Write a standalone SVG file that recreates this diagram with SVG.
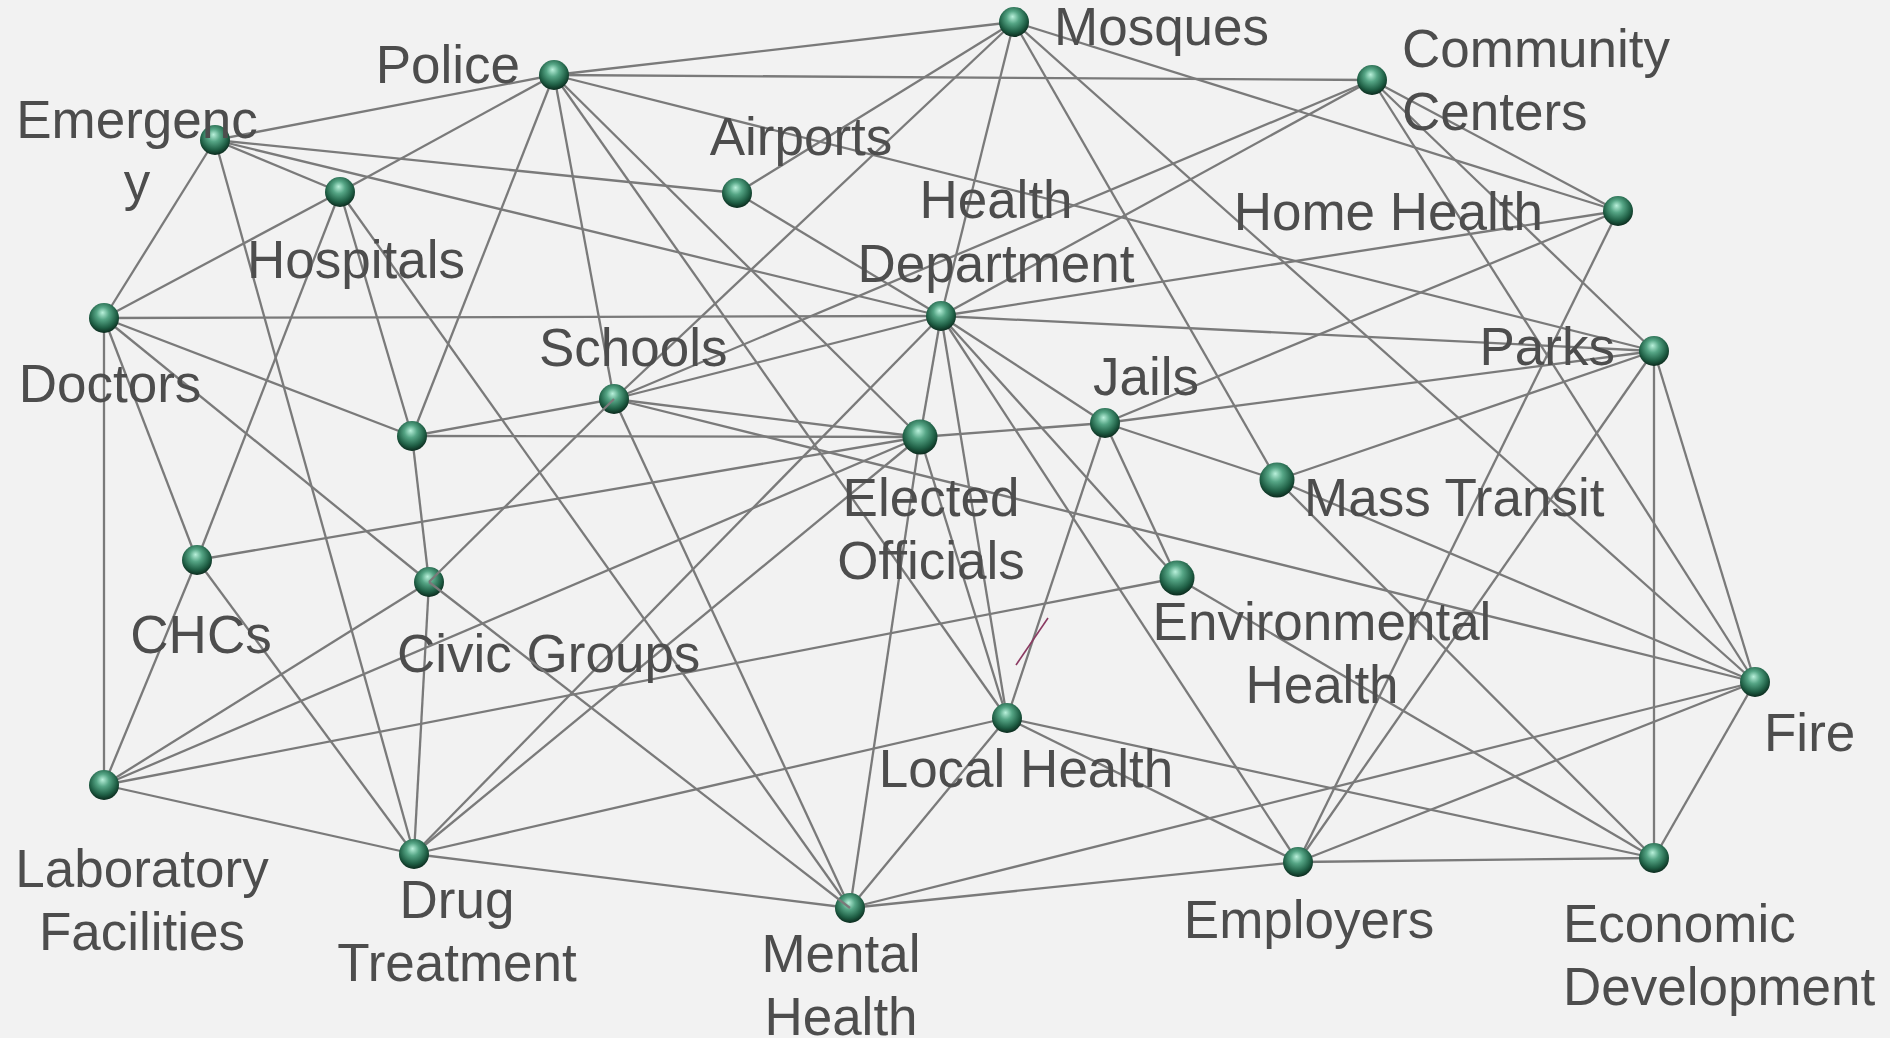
<svg xmlns="http://www.w3.org/2000/svg" width="1890" height="1038" viewBox="0 0 1890 1038">
<style>
.bg{fill:#f2f2f2}
.e line{stroke:#7a7a7a;stroke-width:2.3}
.n{fill:url(#ball)}
.t{font-family:"Liberation Sans",Arial,sans-serif;font-size:53px;fill:#4d4d4d}
.m{text-anchor:middle}
.r{text-anchor:end}
</style>
<defs>
<radialGradient id="ball" cx="48%" cy="40%" r="60%" fx="45%" fy="32%">
<stop offset="0" stop-color="#b8f0da"/>
<stop offset="0.35" stop-color="#55a585"/>
<stop offset="0.75" stop-color="#1f5f45"/>
<stop offset="1" stop-color="#0b2a1d"/>
</radialGradient>
</defs>
<rect class="bg" x="0" y="0" width="1890" height="1038"/>
<g id="connectors" class="e">
<line x1="554" y1="75" x2="215" y2="140"/>
<line x1="554" y1="75" x2="340" y2="192"/>
<line x1="554" y1="75" x2="412" y2="436"/>
<line x1="554" y1="75" x2="614" y2="399"/>
<line x1="554" y1="75" x2="1014" y2="22"/>
<line x1="554" y1="75" x2="1372" y2="80"/>
<line x1="554" y1="75" x2="1654" y2="351"/>
<line x1="554" y1="75" x2="920" y2="437"/>
<line x1="554" y1="75" x2="1007" y2="718"/>
<line x1="215" y1="140" x2="340" y2="192"/>
<line x1="215" y1="140" x2="104" y2="318"/>
<line x1="215" y1="140" x2="414" y2="854"/>
<line x1="215" y1="140" x2="737" y2="193"/>
<line x1="215" y1="140" x2="941" y2="316"/>
<line x1="340" y1="192" x2="104" y2="318"/>
<line x1="340" y1="192" x2="197" y2="560"/>
<line x1="340" y1="192" x2="412" y2="436"/>
<line x1="340" y1="192" x2="850" y2="908"/>
<line x1="104" y1="318" x2="941" y2="316"/>
<line x1="104" y1="318" x2="104" y2="785"/>
<line x1="104" y1="318" x2="197" y2="560"/>
<line x1="104" y1="318" x2="429" y2="582"/>
<line x1="104" y1="318" x2="412" y2="436"/>
<line x1="1014" y1="22" x2="614" y2="399"/>
<line x1="1014" y1="22" x2="737" y2="193"/>
<line x1="1014" y1="22" x2="941" y2="316"/>
<line x1="1014" y1="22" x2="1277" y2="480"/>
<line x1="1014" y1="22" x2="1755" y2="682"/>
<line x1="1014" y1="22" x2="1618" y2="211"/>
<line x1="1372" y1="80" x2="941" y2="316"/>
<line x1="1372" y1="80" x2="614" y2="399"/>
<line x1="1372" y1="80" x2="1618" y2="211"/>
<line x1="1372" y1="80" x2="1755" y2="682"/>
<line x1="1372" y1="80" x2="1654" y2="351"/>
<line x1="737" y1="193" x2="941" y2="316"/>
<line x1="941" y1="316" x2="1618" y2="211"/>
<line x1="941" y1="316" x2="1654" y2="351"/>
<line x1="941" y1="316" x2="614" y2="399"/>
<line x1="941" y1="316" x2="414" y2="854"/>
<line x1="941" y1="316" x2="920" y2="437"/>
<line x1="941" y1="316" x2="1007" y2="718"/>
<line x1="941" y1="316" x2="1298" y2="862"/>
<line x1="941" y1="316" x2="1177" y2="578"/>
<line x1="941" y1="316" x2="1105" y2="423"/>
<line x1="1618" y1="211" x2="1105" y2="423"/>
<line x1="1618" y1="211" x2="1298" y2="862"/>
<line x1="412" y1="436" x2="614" y2="399"/>
<line x1="412" y1="436" x2="920" y2="437"/>
<line x1="412" y1="436" x2="429" y2="582"/>
<line x1="614" y1="399" x2="920" y2="437"/>
<line x1="614" y1="399" x2="1755" y2="682"/>
<line x1="614" y1="399" x2="850" y2="908"/>
<line x1="197" y1="560" x2="920" y2="437"/>
<line x1="197" y1="560" x2="104" y2="785"/>
<line x1="197" y1="560" x2="414" y2="854"/>
<line x1="429" y1="582" x2="414" y2="854"/>
<line x1="429" y1="582" x2="104" y2="785"/>
<line x1="104" y1="785" x2="920" y2="437"/>
<line x1="104" y1="785" x2="1177" y2="578"/>
<line x1="104" y1="785" x2="414" y2="854"/>
<line x1="414" y1="854" x2="920" y2="437"/>
<line x1="414" y1="854" x2="1007" y2="718"/>
<line x1="414" y1="854" x2="850" y2="908"/>
<line x1="850" y1="908" x2="920" y2="437"/>
<line x1="850" y1="908" x2="1007" y2="718"/>
<line x1="850" y1="908" x2="1755" y2="682"/>
<line x1="850" y1="908" x2="1298" y2="862"/>
<line x1="1007" y1="718" x2="920" y2="437"/>
<line x1="1007" y1="718" x2="1105" y2="423"/>
<line x1="1007" y1="718" x2="1654" y2="858"/>
<line x1="1007" y1="718" x2="1298" y2="862"/>
<line x1="920" y1="437" x2="1105" y2="423"/>
<line x1="1105" y1="423" x2="1654" y2="351"/>
<line x1="1105" y1="423" x2="1277" y2="480"/>
<line x1="1105" y1="423" x2="1177" y2="578"/>
<line x1="1177" y1="578" x2="1654" y2="858"/>
<line x1="1277" y1="480" x2="1654" y2="351"/>
<line x1="1277" y1="480" x2="1755" y2="682"/>
<line x1="1277" y1="480" x2="1654" y2="858"/>
<line x1="1755" y1="682" x2="1654" y2="351"/>
<line x1="1755" y1="682" x2="1654" y2="858"/>
<line x1="1755" y1="682" x2="1298" y2="862"/>
<line x1="1298" y1="862" x2="1654" y2="858"/>
<line x1="1298" y1="862" x2="1654" y2="351"/>
<line x1="1654" y1="351" x2="1654" y2="858"/>
</g>
<line x1="1048" y1="618" x2="1016" y2="665" stroke="#8b3a62" stroke-width="1.6"/>
<g id="police"><circle class="n" cx="554" cy="75" r="15"/><text class="t r" x="520" y="83">Police</text></g>
<g id="mosques"><circle class="n" cx="1014" cy="22" r="15"/><text class="t" x="1054" y="45">Mosques</text></g>
<g id="community-centers"><circle class="n" cx="1372" cy="80" r="15"/><text class="t" x="1402" y="67">Community<tspan x="1402" y="130">Centers</tspan></text></g>
<g id="emergency"><circle class="n" cx="215" cy="140" r="15"/><text class="t m" x="137" y="138">Emergenc<tspan x="137" y="200">y</tspan></text></g>
<g id="airports"><circle class="n" cx="737" cy="193" r="15"/><text class="t m" x="801" y="155">Airports</text></g>
<g id="hospitals"><circle class="n" cx="340" cy="192" r="15"/><text class="t m" x="356" y="278">Hospitals</text></g>
<g id="health-department"><circle class="n" cx="941" cy="316" r="15"/><text class="t m" x="996" y="218">Health<tspan x="996" y="282">Department</tspan></text></g>
<g id="home-health"><circle class="n" cx="1618" cy="211" r="15"/><text class="t r" x="1543" y="230">Home Health</text></g>
<g id="doctors"><circle class="n" cx="104" cy="318" r="15"/><text class="t m" x="110" y="402">Doctors</text></g>
<g id="node-unlabeled"><circle class="n" cx="412" cy="436" r="15"/></g>
<g id="schools"><circle class="n" cx="614" cy="399" r="15"/><text class="t" x="539" y="366">Schools</text></g>
<g id="parks"><circle class="n" cx="1654" cy="351" r="15"/><text class="t r" x="1615" y="365">Parks</text></g>
<g id="jails"><circle class="n" cx="1105" cy="423" r="15"/><text class="t m" x="1146" y="395">Jails</text></g>
<g id="elected-officials"><circle class="n" cx="920" cy="437" r="17.5"/><text class="t m" x="931" y="516">Elected<tspan x="931" y="579">Officials</tspan></text></g>
<g id="mass-transit"><circle class="n" cx="1277" cy="480" r="17.5"/><text class="t" x="1304" y="516">Mass Transit</text></g>
<g id="chcs"><circle class="n" cx="197" cy="560" r="15"/><text class="t m" x="201" y="653">CHCs</text></g>
<g id="civic-groups"><circle class="n" cx="429" cy="582" r="15"/><text class="t" x="397" y="672">Civic Groups</text></g>
<g id="environmental-health"><circle class="n" cx="1177" cy="578" r="17.5"/><text class="t m" x="1322" y="640">Environmental<tspan x="1322" y="703">Health</tspan></text></g>
<g id="fire"><circle class="n" cx="1755" cy="682" r="15"/><text class="t" x="1764" y="751">Fire</text></g>
<g id="local-health"><circle class="n" cx="1007" cy="718" r="15"/><text class="t m" x="1026" y="787">Local Health</text></g>
<g id="laboratory-facilities"><circle class="n" cx="104" cy="785" r="15"/><text class="t m" x="142" y="887">Laboratory<tspan x="142" y="950">Facilities</tspan></text></g>
<g id="drug-treatment"><circle class="n" cx="414" cy="854" r="15"/><text class="t m" x="457" y="918">Drug<tspan x="457" y="981">Treatment</tspan></text></g>
<g id="mental-health"><circle class="n" cx="850" cy="908" r="15"/><text class="t m" x="841" y="972">Mental<tspan x="841" y="1035">Health</tspan></text></g>
<g id="employers"><circle class="n" cx="1298" cy="862" r="15"/><text class="t m" x="1309" y="938">Employers</text></g>
<g id="economic-development"><circle class="n" cx="1654" cy="858" r="15"/><text class="t" x="1563" y="942">Economic<tspan x="1563" y="1005">Development</tspan></text></g>
<g id="crossing-over-civic" class="e"><line x1="614" y1="399" x2="429" y2="582"/><line x1="429" y1="582" x2="850" y2="908"/></g>
</svg>
